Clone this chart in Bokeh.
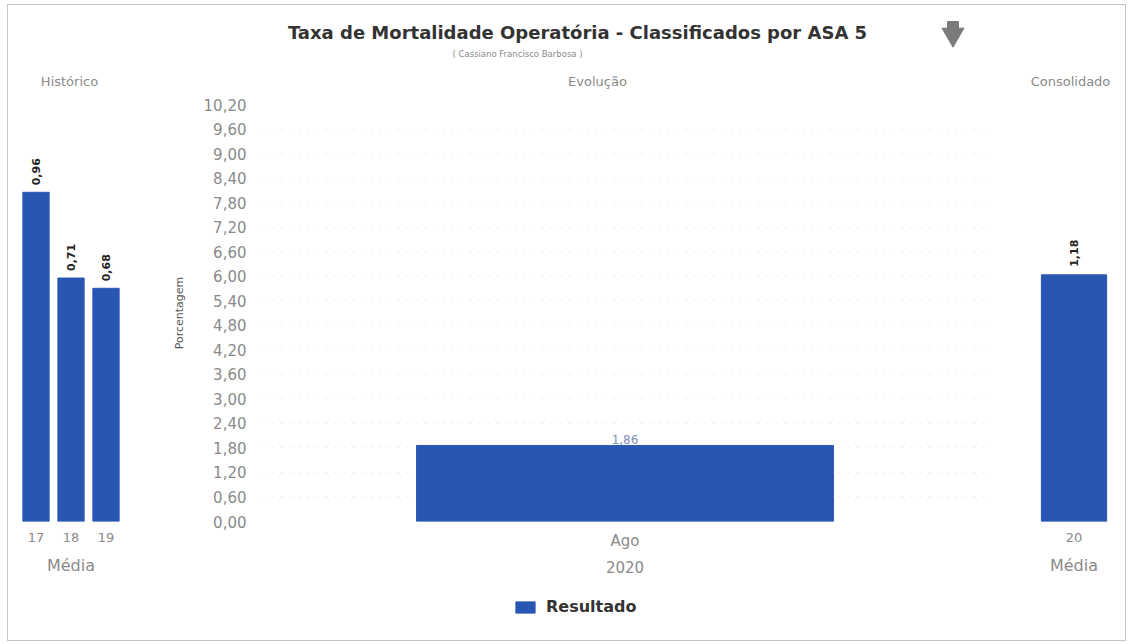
import math
from bokeh.plotting import figure
from bokeh.models import (ColumnDataSource, FactorRange, Range1d, FixedTicker, Label,
                          Legend, LegendItem, CustomJSTickFormatter)
from bokeh.layouts import column, row
from bokeh.embed import file_html
from bokeh.resources import INLINE
from bokeh.core.properties import value

# ---------------- data ----------------
TITLE = "Taxa de Mortalidade Operatória - Classificados por ASA 5"
SUBTITLE = "( Cassiano Francisco Barbosa )"
PANEL_TITLES = ["Histórico", "Evolução", "Consolidado"]

hist_years = ["17", "18", "19"]
hist_values = [0.96, 0.71, 0.68]
hist_labels = ["0,96", "0,71", "0,68"]
hist_axis_label = "Média"

evol_months = ["Ago"]
evol_values = [1.86]
evol_labels = ["1,86"]
evol_year = "2020"
evol_axis_title = "Porcentagem"

cons_years = ["20"]
cons_values = [1.18]
cons_labels = ["1,18"]
cons_axis_label = "Média"

y_ticks = [0.0, 0.6, 1.2, 1.8, 2.4, 3.0, 3.6, 4.2, 4.8, 5.4, 6.0,
           6.6, 7.2, 7.8, 8.4, 9.0, 9.6, 10.2]

series_name = "Resultado"

# ---------------- styles ----------------
BAR = "#2a56b3"
FONT = "DejaVu Sans"
GRAY = "#8a8a8a"
W_TOTAL = 1117


def style_xaxis(p, tick_size, label_size, standoff, label_standoff):
    ax = p.xaxis[0]
    ax.axis_line_color = None
    ax.major_tick_line_color = None
    ax.minor_tick_line_color = None
    ax.major_label_text_font = FONT
    ax.major_label_text_font_size = tick_size
    ax.major_label_text_color = GRAY
    ax.major_label_standoff = standoff
    ax.axis_label_text_font = FONT
    ax.axis_label_text_font_size = label_size
    ax.axis_label_text_font_style = "normal"
    ax.axis_label_text_color = GRAY
    ax.axis_label_standoff = label_standoff


# ---------------- header ----------------
header = figure(width=W_TOTAL, height=90, x_range=Range1d(8, 1125), y_range=Range1d(95, 5),
                toolbar_location=None, output_backend="svg", min_border=0,
                x_axis_location=None, y_axis_location=None, outline_line_color=None)
header.xgrid.visible = False
header.ygrid.visible = False
header.add_layout(Label(x=577, y=32, text=TITLE, text_align="center", text_baseline="middle",
                        text_font=FONT, text_font_size="18px", text_font_style="bold",
                        text_color="#333333"))
header.add_layout(Label(x=517, y=53, text=SUBTITLE, text_align="center", text_baseline="middle",
                        text_font=FONT, text_font_size="8.5px", text_color="#8a8a8a"))
for xx, t in zip([69, 597, 1070], PANEL_TITLES):
    header.add_layout(Label(x=xx, y=81, text=t, text_align="center", text_baseline="middle",
                            text_font=FONT, text_font_size="13px", text_color="#8a8a8a"))
# download icon (gray down arrow)
header.quad(left=[947], right=[958], top=[21], bottom=[30], color="#7b7b7b")
header.scatter(x=[952.5], y=[34], marker="inverted_triangle", size=22, color="#7b7b7b")

ROW_H = 490
TOP_B = 9
FRAME_H = 417
BOT_B = ROW_H - TOP_B - FRAME_H

# ---------------- left: Histórico ----------------
src_h = ColumnDataSource(dict(cat=hist_years, val=hist_values, lab=hist_labels))
left = figure(width=150, height=ROW_H, x_range=FactorRange(*hist_years, range_padding=0),
              y_range=Range1d(0, 1.216), toolbar_location=None, output_backend="svg",
              y_axis_location=None, outline_line_color=None,
              min_border_left=10, min_border_right=35, min_border_top=TOP_B,
              min_border_bottom=BOT_B)
left.grid.visible = False
left.vbar(x="cat", top="val", width=0.75, color=BAR, source=src_h)
left.text(x="cat", y="val", text="lab", angle=math.pi / 2, text_align="left",
          text_baseline="middle", y_offset=-7, text_font=value(FONT),
          text_font_style="bold", text_font_size="11px", text_color="#222222", source=src_h)
left.xaxis.axis_label = hist_axis_label
style_xaxis(left, "13px", "16px", 5, 11)

# ---------------- center: Evolução ----------------
src_e = ColumnDataSource(dict(cat=evol_months, val=evol_values, lab=evol_labels))
center = figure(width=850, height=ROW_H, x_range=FactorRange(*evol_months, range_padding=0),
                y_range=Range1d(0, 10.2), toolbar_location=None, output_backend="svg",
                outline_line_color=None,
                min_border_left=104, min_border_right=21, min_border_top=TOP_B,
                min_border_bottom=BOT_B)
center.vbar(x="cat", top="val", width=0.575, color=BAR, source=src_e)
center.text(x="cat", y="val", text="lab", text_align="center", text_baseline="bottom",
            y_offset=-1, text_font=value(FONT), text_font_size="12px",
            text_color="#8192b8", source=src_e)
center.xgrid.visible = False
center.ygrid.grid_line_color = "#ebebeb"
center.ygrid.grid_line_dash = "2 7"
center.ygrid.ticker = FixedTicker(ticks=y_ticks)
center.xaxis.axis_label = evol_year
style_xaxis(center, "15px", "15px", 4, 8)
ya = center.yaxis[0]
ya.ticker = FixedTicker(ticks=y_ticks)
ya.formatter = CustomJSTickFormatter(code="return tick.toFixed(2).replace('.', ',');")
ya.axis_line_color = None
ya.major_tick_line_color = None
ya.minor_tick_line_color = None
ya.major_label_text_font = FONT
ya.major_label_text_font_size = "15px"
ya.major_label_text_color = GRAY
ya.major_label_standoff = 10
ya.axis_label = evol_axis_title
ya.axis_label_text_font = FONT
ya.axis_label_text_font_size = "11px"
ya.axis_label_text_font_style = "normal"
ya.axis_label_text_color = "#555555"
ya.axis_label_standoff = 15

# ---------------- right: Consolidado ----------------
src_c = ColumnDataSource(dict(cat=cons_years, val=cons_values, lab=cons_labels))
right = figure(width=117, height=ROW_H, x_range=FactorRange(*cons_years, range_padding=0),
               y_range=Range1d(0, 1.995), toolbar_location=None, output_backend="svg",
               y_axis_location=None, outline_line_color=None,
               min_border_left=22, min_border_right=8, min_border_top=TOP_B,
               min_border_bottom=BOT_B)
right.grid.visible = False
right.vbar(x="cat", top="val", width=0.75, color=BAR, source=src_c)
right.text(x="cat", y="val", text="lab", angle=math.pi / 2, text_align="left",
           text_baseline="middle", y_offset=-8, text_font=value(FONT),
           text_font_style="bold", text_font_size="11px", text_color="#222222", source=src_c)
right.xaxis.axis_label = cons_axis_label
style_xaxis(right, "13px", "16px", 5, 11)

# ---------------- footer with legend ----------------
footer = figure(width=W_TOTAL, height=55, x_range=Range1d(0, 1), y_range=Range1d(0, 1),
                toolbar_location=None, output_backend="svg", min_border=0,
                x_axis_location=None, y_axis_location=None, outline_line_color=None)
footer.xgrid.visible = False
footer.ygrid.visible = False
# legend proxy: a swatch-only renderer (NaN height, so nothing is drawn in the footer)
r_leg = footer.vbar(x=[0.5], top=[float("nan")], width=0.5, color=BAR)
legend = Legend(items=[LegendItem(label=series_name, renderers=[r_leg])], location=(505, 24),
                orientation="horizontal", padding=0, margin=0, spacing=0,
                glyph_width=24, glyph_height=14, label_standoff=9,
                label_text_font=FONT, label_text_font_size="16px",
                label_text_font_style="bold", label_text_color="#333333",
                background_fill_alpha=0, border_line_alpha=0)
footer.add_layout(legend)

layout = column(header, row(left, center, right), footer,
                styles={"border": "1px solid #c4c4c4", "margin": "4px 0 0 7px"})

open("out.html", "w").write(file_html(layout, INLINE))
